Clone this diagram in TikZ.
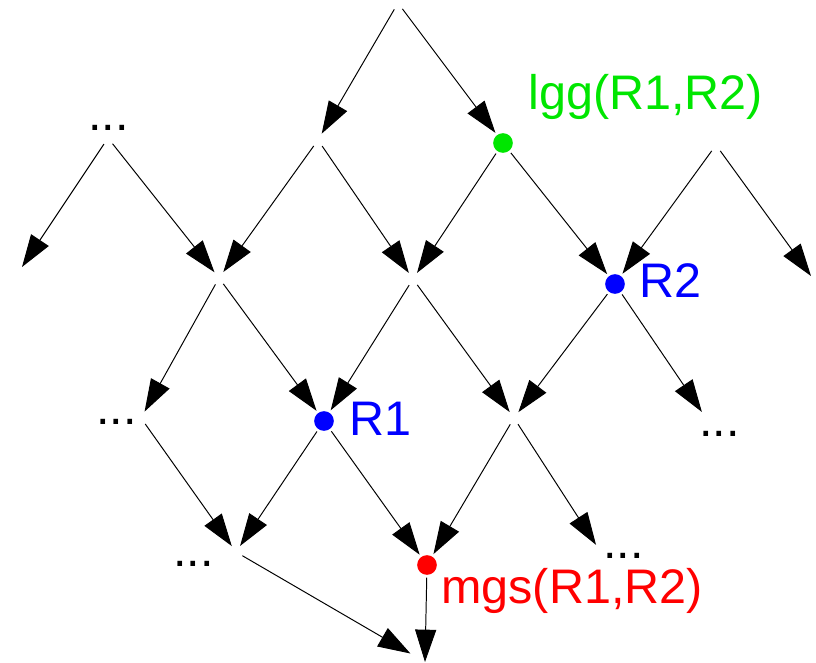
\documentclass[tikz,border=0pt]{standalone}
\usepackage{fontspec}
\setmainfont{Liberation Sans}
\usetikzlibrary{arrows.meta}
\definecolor{lggcol}{RGB}{0,230,0}
\definecolor{rcol}{RGB}{0,0,255}
\definecolor{mgscol}{RGB}{255,0,0}

\begin{document}
\begin{tikzpicture}[x=0.025cm, y=-0.025cm,
		edge/.style={line width=0.7pt, -{Triangle[length=23pt,width=15pt]}},
		junc/.style={circle, inner sep=0pt, minimum size=10pt},
		dot/.style={circle, inner sep=0pt, minimum size=14pt, outer sep=2pt},
		lbl/.style={inner sep=0pt, anchor=base west, font=\fontsize{34.5}{41}\selectfont}]
			%%%%% START %%%%%
			
			\useasboundingbox (0,0) rectangle (816,663);
			
			\node[junc] (top) at (398,3) {};
			
			\node[junc] (j1) at (108,138) {};
			\node[junc] (a) at (318,140) {};
			\node[dot, fill=lggcol] (lgg) at (503,143) {};
			\node[junc] (b) at (716,145) {};
			\coordinate (fl) at (22,267);
			\coordinate (fr) at (811,276);
			
			\node[junc] (c) at (219,278) {};
			\node[junc] (d) at (413,279) {};
			\node[dot, fill=rcol] (r2) at (615,284) {};
			
			\node[junc] (j2) at (141,418) {};
			\node[dot, fill=rcol] (r1) at (324,421) {};
			\node[junc] (e) at (514,418) {};
			\node[junc] (j3) at (706,418) {};
			
			\node[junc] (j4) at (236,552) {};
			\node[dot, fill=mgscol] (mgs) at (427,565) {};
			\node[junc] (j5) at (600,551) {};
			\coordinate (bot) at (425,662);
			
			\node[lbl] (dots1) at (88,131) {...};
			\node[lbl] (dots2) at (96,424) {...};
			\node[lbl] (dots3) at (699,436) {...};
			\node[lbl] (dots4) at (173,566) {...};
			\node[lbl] (dots5) at (603,558) {...};
			
			\node[lbl, text=lggcol] (lggtxt) at (528,110) {lgg(R1,R2)};
			\node[lbl, text=rcol] (r2txt) at (639,297) {R2};
			\node[lbl, text=rcol] (r1txt) at (349,435) {R1};
			\node[lbl, text=mgscol] (mgstxt) at (441,603) {mgs(R1,R2)};
			
			\draw[edge] (top) -- (a);
			\draw[edge] (top) -- (lgg);
			
			\draw[edge] (j1) -- (fl);
			\draw[edge] (j1) -- (c);
			\draw[edge] (a) -- (c);
			\draw[edge] (a) -- (d);
			\draw[edge] (lgg) -- (d);
			\draw[edge] (lgg) -- (r2);
			\draw[edge] (b) -- (r2);
			\draw[edge] (b) -- (fr);
			
			\draw[edge] (c) -- (j2);
			\draw[edge] (c) -- (r1);
			\draw[edge] (d) -- (r1);
			\draw[edge] (d) -- (e);
			\draw[edge] (r2) -- (e);
			\draw[edge] (r2) -- (j3);
			
			\draw[edge] (j2) -- (j4);
			\draw[edge] (r1) -- (j4);
			\draw[edge] (r1) -- (mgs);
			\draw[edge] (e) -- (mgs);
			\draw[edge] (e) -- (j5);
			
			\draw[edge, shorten >=12pt] (j4) -- (bot);
			\draw[edge] (mgs) -- (bot);
			
			%%%%% END %%%%%
		\end{tikzpicture}
\end{document}
